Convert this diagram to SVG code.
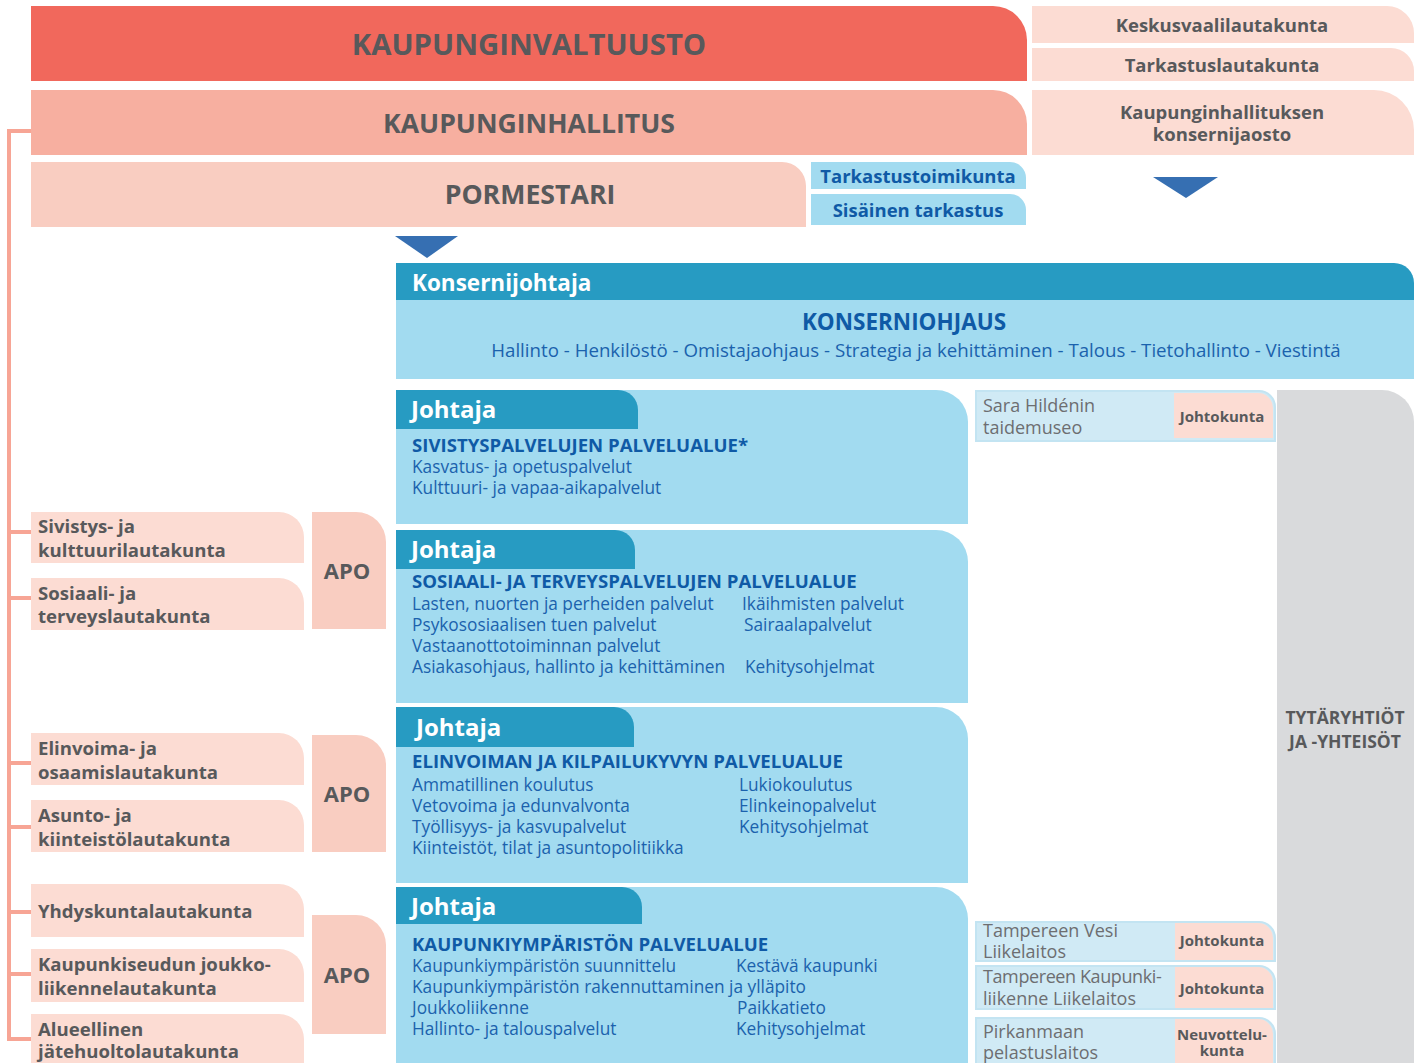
<svg xmlns="http://www.w3.org/2000/svg" width="1421" height="1063" viewBox="0 0 1421 1063">
<style>
text{font-family:"Open Sans","Noto Sans","Liberation Sans",sans-serif}
.g{fill:#58595B;font-weight:700}
.w{fill:#FFFFFF;font-weight:700}
.bb{fill:#0F5AA6;font-weight:700}
.b{fill:#1B62AD;font-size:17.3px}
.gr{fill:#6D6E71;font-size:18px}
.jk{fill:#58595B;font-weight:700;font-size:15px;text-anchor:middle}
.lk{fill:#58595B;font-weight:700;font-size:18.6px}
.apo{fill:#58595B;font-weight:700;font-size:22px;text-anchor:middle}
.c{text-anchor:middle}
.peach{fill:#FCDCD3}
.apobox{fill:#F9CDC1}
.teal{fill:#279BC2}
.lb{fill:#A2DBF0}
.pb{fill:#D0EAF5;stroke:#C3E4F2;stroke-width:2}
.tri{fill:#366FB2}
.conn{fill:none;stroke:#F7A595;stroke-width:4}
</style>

<g id="kaupunginvaltuusto">
<path d="M31,6 H993 A34,34 0 0 1 1027,40 V81 H31 Z" fill="#F1685C"/>
<text class="g c" x="529" y="55" font-size="29.3">KAUPUNGINVALTUUSTO</text>
</g>
<g id="kaupunginhallitus">
<path d="M31,90 H993 A34,34 0 0 1 1027,124 V155 H31 Z" fill="#F7AFA0"/>
<text class="g c" x="529" y="133" font-size="26.6">KAUPUNGINHALLITUS</text>
</g>
<g id="pormestari">
<path d="M31,162 H782 A24,24 0 0 1 806,186 V227 H31 Z" fill="#F9CDC1"/>
<text class="g c" x="530" y="204" font-size="26.7">PORMESTARI</text>
</g>
<g id="keskusvaalilautakunta">
<path class="peach" d="M1032,6 H1387 A27,27 0 0 1 1414,33 V43 H1032 Z"/>
<text class="g c" x="1222" y="32" font-size="18.5">Keskusvaalilautakunta</text>
</g>
<g id="tarkastuslautakunta">
<path class="peach" d="M1032,48 H1391 A23,23 0 0 1 1414,71 V81 H1032 Z"/>
<text class="g c" x="1222" y="72" font-size="18.5">Tarkastuslautakunta</text>
</g>
<g id="konsernijaosto">
<path class="peach" d="M1032,90 H1374 A40,40 0 0 1 1414,130 V155 H1032 Z"/>
<text class="g c" x="1222" y="119" font-size="18.5">Kaupunginhallituksen</text>
<text class="g c" x="1222" y="141" font-size="18.5">konsernijaosto</text>
</g>
<g id="tarkastustoimikunta">
<path class="lb" d="M811,162 H1010 A16,16 0 0 1 1026,178 V189 H811 Z"/>
<text class="bb c" x="918" y="183" font-size="18.5">Tarkastustoimikunta</text>
</g>
<g id="sisainen-tarkastus">
<path class="lb" d="M811,194 H1010 A16,16 0 0 1 1026,210 V225 H811 Z"/>
<text class="bb c" x="918" y="217" font-size="18.5">Sisäinen tarkastus</text>
</g>

<g id="konsernijohtaja">
<path class="teal" d="M396,263 H1394 A20,20 0 0 1 1414,283 V300 H396 Z"/>
<rect class="lb" x="396" y="300" width="1018" height="79"/>
<text class="w" x="412" y="291" font-size="22.5">Konsernijohtaja</text>
<text class="bb c" x="904" y="330" font-size="22.5">KONSERNIOHJAUS</text>
<text class="c" x="916" y="357" font-size="18.7" fill="#1B62AD">Hallinto - Henkilöstö - Omistajaohjaus - Strategia ja kehittäminen - Talous - Tietohallinto - Viestintä</text>
</g>

<g id="sivistyspalvelut">
<path class="lb" d="M396,390 H936 A32,32 0 0 1 968,422 V524 H396 Z"/>
<path class="teal" d="M396,390 H618 A20,20 0 0 1 638,410 V429 H396 Z"/>
<text class="w" x="411" y="418" font-size="24">Johtaja</text>
<text class="bb" x="412" y="452" font-size="18.6">SIVISTYSPALVELUJEN PALVELUALUE*</text>
<text class="b" x="412" y="473">Kasvatus- ja opetuspalvelut</text>
<text class="b" x="412" y="494">Kulttuuri- ja vapaa-aikapalvelut</text>
</g>

<g id="sosiaali-terveyspalvelut">
<path class="lb" d="M396,530 H936 A32,32 0 0 1 968,562 V703 H396 Z"/>
<path class="teal" d="M396,530 H615 A20,20 0 0 1 635,550 V569 H396 Z"/>
<text class="w" x="411" y="558" font-size="24">Johtaja</text>
<text class="bb" x="412" y="588" font-size="18.6">SOSIAALI- JA TERVEYSPALVELUJEN PALVELUALUE</text>
<text class="b" x="412" y="610">Lasten, nuorten ja perheiden palvelut</text>
<text class="b" x="742" y="610">Ikäihmisten palvelut</text>
<text class="b" x="412" y="631">Psykososiaalisen tuen palvelut</text>
<text class="b" x="744" y="631">Sairaalapalvelut</text>
<text class="b" x="412" y="652">Vastaanottotoiminnan palvelut</text>
<text class="b" x="412" y="673">Asiakasohjaus, hallinto ja kehittäminen</text>
<text class="b" x="745" y="673">Kehitysohjelmat</text>
</g>

<g id="elinvoima-kilpailukyky">
<path class="lb" d="M396,707 H936 A32,32 0 0 1 968,739 V883 H396 Z"/>
<path class="teal" d="M396,707 H614 A20,20 0 0 1 634,727 V747 H396 Z"/>
<text class="w" x="416" y="736" font-size="24">Johtaja</text>
<text class="bb" x="412" y="768" font-size="18.6">ELINVOIMAN JA KILPAILUKYVYN PALVELUALUE</text>
<text class="b" x="412" y="791">Ammatillinen koulutus</text>
<text class="b" x="739" y="791">Lukiokoulutus</text>
<text class="b" x="412" y="812">Vetovoima ja edunvalvonta</text>
<text class="b" x="739" y="812">Elinkeinopalvelut</text>
<text class="b" x="412" y="833">Työllisyys- ja kasvupalvelut</text>
<text class="b" x="739" y="833">Kehitysohjelmat</text>
<text class="b" x="412" y="854">Kiinteistöt, tilat ja asuntopolitiikka</text>
</g>

<g id="kaupunkiymparisto">
<path class="lb" d="M396,887 H936 A32,32 0 0 1 968,919 V1070 H396 Z"/>
<path class="teal" d="M396,887 H622 A20,20 0 0 1 642,907 V924 H396 Z"/>
<text class="w" x="411" y="915" font-size="24">Johtaja</text>
<text class="bb" x="412" y="951" font-size="18.6">KAUPUNKIYMPÄRISTÖN PALVELUALUE</text>
<text class="b" x="412" y="972">Kaupunkiympäristön suunnittelu</text>
<text class="b" x="736" y="972">Kestävä kaupunki</text>
<text class="b" x="412" y="993">Kaupunkiympäristön rakennuttaminen ja ylläpito</text>
<text class="b" x="412" y="1014">Joukkoliikenne</text>
<text class="b" x="737" y="1014">Paikkatieto</text>
<text class="b" x="412" y="1035">Hallinto- ja talouspalvelut</text>
<text class="b" x="736" y="1035">Kehitysohjelmat</text>
</g>

<g id="tytaryhtiot">
<path d="M1277,390 H1382 A32,32 0 0 1 1414,422 V1070 H1277 Z" fill="#D9DADC"/>
<text class="g c" x="1345" y="724" font-size="17.5">TYTÄRYHTIÖT</text>
<text class="g c" x="1345" y="748" font-size="17.5">JA -YHTEISÖT</text>
</g>

<g id="sara-hildenin-taidemuseo">
<path class="pb" d="M976,391 H1259 A16,16 0 0 1 1275,407 V441 H976 Z"/>
<path class="peach" d="M1174,393 H1258 A15,15 0 0 1 1273,408 V438 H1174 Z"/>
<text class="gr" x="983" y="412">Sara Hildénin</text>
<text class="gr" x="983" y="434">taidemuseo</text>
<text class="jk" x="1222" y="422">Johtokunta</text>
</g>
<g id="tampereen-vesi">
<path class="pb" d="M976,922 H1259 A16,16 0 0 1 1275,938 V961 H976 Z"/>
<path class="peach" d="M1175,923 H1258 A15,15 0 0 1 1273,938 V960 H1175 Z"/>
<text class="gr" x="983" y="937">Tampereen Vesi</text>
<text class="gr" x="983" y="958">Liikelaitos</text>
<text class="jk" x="1222" y="946">Johtokunta</text>
</g>
<g id="tampereen-kaupunkiliikenne">
<path class="pb" d="M976,966 H1259 A16,16 0 0 1 1275,982 V1009 H976 Z"/>
<path class="peach" d="M1175,967 H1258 A15,15 0 0 1 1273,982 V1008 H1175 Z"/>
<text class="gr" x="983" y="983" letter-spacing="-0.4">Tampereen Kaupunki-</text>
<text class="gr" x="983" y="1005">liikenne Liikelaitos</text>
<text class="jk" x="1222" y="994">Johtokunta</text>
</g>
<g id="pirkanmaan-pelastuslaitos">
<path class="pb" d="M976,1018 H1259 A16,16 0 0 1 1275,1034 V1070 H976 Z"/>
<path class="peach" d="M1175,1019 H1258 A15,15 0 0 1 1273,1034 V1070 H1175 Z"/>
<text class="gr" x="983" y="1038">Pirkanmaan</text>
<text class="gr" x="983" y="1059">pelastuslaitos</text>
<text class="jk" x="1222" y="1040">Neuvottelu-</text>
<text class="jk" x="1222" y="1056">kunta</text>
</g>

<g id="sivistys-kulttuurilautakunta">
<path class="peach" d="M31,512 H279 A25,25 0 0 1 304,537 V563 H31 Z"/>
<text class="lk" x="38" y="533">Sivistys- ja</text>
<text class="lk" x="38" y="557">kulttuurilautakunta</text>
</g>
<g id="sosiaali-terveyslautakunta">
<path class="peach" d="M31,578 H279 A25,25 0 0 1 304,603 V630 H31 Z"/>
<text class="lk" x="38" y="600">Sosiaali- ja</text>
<text class="lk" x="38" y="623">terveyslautakunta</text>
</g>
<g id="apo-1">
<path class="apobox" d="M312,512 H356 A30,30 0 0 1 386,542 V629 H312 Z"/>
<text class="apo" x="347" y="579">APO</text>
</g>
<g id="elinvoima-osaamislautakunta">
<path class="peach" d="M31,733 H279 A25,25 0 0 1 304,758 V785 H31 Z"/>
<text class="lk" x="38" y="755">Elinvoima- ja</text>
<text class="lk" x="38" y="779">osaamislautakunta</text>
</g>
<g id="asunto-kiinteistolautakunta">
<path class="peach" d="M31,800 H279 A25,25 0 0 1 304,825 V852 H31 Z"/>
<text class="lk" x="38" y="822">Asunto- ja</text>
<text class="lk" x="38" y="846">kiinteistölautakunta</text>
</g>
<g id="apo-2">
<path class="apobox" d="M312,735 H356 A30,30 0 0 1 386,765 V852 H312 Z"/>
<text class="apo" x="347" y="802">APO</text>
</g>
<g id="yhdyskuntalautakunta">
<path class="peach" d="M31,884 H279 A25,25 0 0 1 304,909 V937 H31 Z"/>
<text class="lk" x="38" y="918">Yhdyskuntalautakunta</text>
</g>
<g id="joukkoliikennelautakunta">
<path class="peach" d="M31,949 H279 A25,25 0 0 1 304,974 V1002 H31 Z"/>
<text class="lk" x="38" y="971">Kaupunkiseudun joukko-</text>
<text class="lk" x="38" y="995">liikennelautakunta</text>
</g>
<g id="jatehuoltolautakunta">
<path class="peach" d="M31,1014 H279 A25,25 0 0 1 304,1039 V1070 H31 Z"/>
<text class="lk" x="38" y="1036">Alueellinen</text>
<text class="lk" x="38" y="1058">jätehuoltolautakunta</text>
</g>
<g id="apo-3">
<path class="apobox" d="M312,915 H356 A30,30 0 0 1 386,945 V1034 H312 Z"/>
<text class="apo" x="347" y="983">APO</text>
</g>

<g id="connectors">
<path class="conn" d="M31,131 H9 V1039 H31"/>
<path class="conn" d="M9,532 H31 M9,598 H31 M9,763 H31 M9,827 H31 M9,912 H31 M9,974 H31"/>
<polygon class="tri" points="395,236 458,236 427,258"/>
<polygon class="tri" points="1153,177 1218,177 1186,198"/>
</g>
</svg>
